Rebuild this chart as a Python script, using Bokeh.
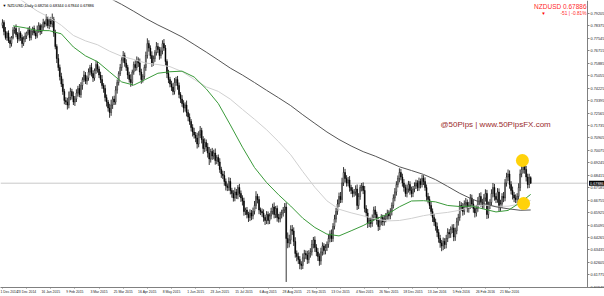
from bokeh.plotting import figure
from bokeh.models import Range1d, LinearAxis, FixedTicker, Label, ColumnDataSource, PrintfTickFormatter
from bokeh.embed import file_html
from bokeh.resources import INLINE

# ---------------- data (NZDUSD daily) ----------------
symbol = "NZDUSD"
last_price = 0.67886
ohlc_text = "0.68256 0.68344 0.67844 0.67886"
change_pips = -51
change_pct = -0.81
first_open = 0.7840

closes = [
    0.7860, 0.7800, 0.7760, 0.7790, 0.7740, 0.7720, 0.7760, 0.7810, 0.7820, 0.7780, 0.7750, 0.7790, 0.7760, 0.7720, 0.7750, 0.7770,
    0.7790, 0.7810, 0.7760, 0.7800, 0.7820, 0.7790, 0.7770, 0.7810, 0.7840, 0.7800, 0.7830, 0.7860, 0.7850, 0.7880, 0.7840, 0.7870,
    0.7850, 0.7880, 0.7790, 0.7700, 0.7620, 0.7560, 0.7500, 0.7450, 0.7400, 0.7340, 0.7330, 0.7310, 0.7360, 0.7400, 0.7370, 0.7330,
    0.7350, 0.7390, 0.7420, 0.7380, 0.7440, 0.7480, 0.7510, 0.7470, 0.7490, 0.7530, 0.7560, 0.7520, 0.7490, 0.7540, 0.7580, 0.7550,
    0.7510, 0.7480, 0.7440, 0.7420, 0.7360, 0.7330, 0.7290, 0.7260, 0.7310, 0.7350, 0.7330, 0.7410, 0.7460, 0.7520, 0.7560, 0.7610,
    0.7640, 0.7590, 0.7560, 0.7510, 0.7480, 0.7460, 0.7530, 0.7580, 0.7560, 0.7610, 0.7590, 0.7530, 0.7480, 0.7500, 0.7560, 0.7640,
    0.7720, 0.7690, 0.7640, 0.7590, 0.7620, 0.7660, 0.7700, 0.7680, 0.7640, 0.7670, 0.7720, 0.7690, 0.7600, 0.7520, 0.7480, 0.7450,
    0.7430, 0.7400, 0.7460, 0.7480, 0.7440, 0.7380, 0.7350, 0.7320, 0.7290, 0.7310, 0.7260, 0.7230, 0.7200, 0.7160, 0.7130, 0.7110,
    0.7090, 0.7050, 0.7110, 0.7140, 0.7080, 0.7020, 0.7060, 0.7030, 0.6990, 0.6950, 0.7000, 0.6970, 0.6990, 0.6940, 0.6960, 0.6930,
    0.6880, 0.6850, 0.6840, 0.6800, 0.6770, 0.6760, 0.6800, 0.6740, 0.6720, 0.6690, 0.6730, 0.6710, 0.6760, 0.6720, 0.6690, 0.6670,
    0.6600, 0.6610, 0.6580, 0.6560, 0.6590, 0.6570, 0.6600, 0.6640, 0.6700, 0.6680, 0.6610, 0.6600, 0.6590, 0.6560, 0.6540, 0.6580,
    0.6540, 0.6570, 0.6600, 0.6630, 0.6580, 0.6620, 0.6560, 0.6550, 0.6580, 0.6590, 0.6610, 0.6630, 0.6420, 0.6390, 0.6410, 0.6480,
    0.6470, 0.6400, 0.6320, 0.6300, 0.6280, 0.6250, 0.6240, 0.6290, 0.6320, 0.6310, 0.6280, 0.6320, 0.6330, 0.6380, 0.6410, 0.6360,
    0.6330, 0.6300, 0.6270, 0.6330, 0.6370, 0.6340, 0.6360, 0.6380, 0.6420, 0.6450, 0.6420, 0.6500, 0.6550, 0.6600, 0.6650, 0.6700,
    0.6680, 0.6790, 0.6860, 0.6820, 0.6790, 0.6810, 0.6760, 0.6740, 0.6720, 0.6730, 0.6750, 0.6640, 0.6700, 0.6760, 0.6770, 0.6740,
    0.6620, 0.6590, 0.6520, 0.6540, 0.6520, 0.6560, 0.6610, 0.6580, 0.6540, 0.6500, 0.6530, 0.6560, 0.6530, 0.6550, 0.6570, 0.6590,
    0.6570, 0.6600, 0.6640, 0.6690, 0.6730, 0.6780, 0.6820, 0.6860, 0.6830, 0.6790, 0.6760, 0.6720, 0.6750, 0.6780, 0.6740, 0.6720,
    0.6750, 0.6770, 0.6790, 0.6760, 0.6800, 0.6780, 0.6820, 0.6800, 0.6760, 0.6700, 0.6680, 0.6640, 0.6600, 0.6560, 0.6530, 0.6500,
    0.6460, 0.6420, 0.6390, 0.6370, 0.6400, 0.6380, 0.6420, 0.6460, 0.6450, 0.6480, 0.6490, 0.6430, 0.6470, 0.6530, 0.6560, 0.6640,
    0.6630, 0.6600, 0.6650, 0.6660, 0.6620, 0.6640, 0.6690, 0.6650, 0.6620, 0.6590, 0.6620, 0.6670, 0.6700, 0.6660, 0.6640, 0.6690,
    0.6720, 0.6580, 0.6640, 0.6660, 0.6720, 0.6760, 0.6700, 0.6680, 0.6730, 0.6630, 0.6650, 0.6700, 0.6690, 0.6790, 0.6830, 0.6850,
    0.6780, 0.6740, 0.6710, 0.6690, 0.6680, 0.6700, 0.6760, 0.6850, 0.6880, 0.6910, 0.6880, 0.6830, 0.6780, 0.68256, 0.67886,
]

# wick length above the body / below the body, in pips
hi_ext = [
    22, 15, 30, 12, 18, 25, 10, 20, 14, 28, 16, 35, 12, 20, 18, 24,
    10, 18, 26, 14, 12, 20, 16, 30, 22, 14, 18, 25, 12, 35, 20, 16,
    28, 40, 18, 22, 15, 30, 20, 25, 35, 18, 22, 28, 40, 25, 18, 30,
    20, 25, 18, 30, 22, 15, 28, 20, 16, 24, 18, 30, 22, 14, 26, 20,
    18, 22, 30, 16, 25, 20, 14, 28, 35, 18, 22, 26, 20, 15, 24, 18,
    30, 20, 25, 18, 22, 35, 16, 20, 28, 24, 18, 30, 22, 16, 20, 26,
    35, 22, 18, 28, 20, 16, 30, 24, 18, 26, 22, 30, 20, 15, 25, 18,
    22, 28, 30, 18, 24, 20, 16, 26, 22, 18, 30, 20, 24, 16, 22, 28,
    20, 35, 25, 30, 18, 22, 28, 20, 26, 40, 18, 24, 22, 30, 16, 20,
    25, 18, 22, 30, 20, 16, 28, 24, 18, 22, 30, 20, 16, 24, 20, 18,
    22, 16, 20, 18, 24, 20, 26, 30, 35, 18, 22, 16, 20, 24, 18, 22,
    20, 18, 24, 22, 30, 16, 20, 24, 18, 22, 20, 26, 30, 40, 35, 28,
    30, 24, 28, 20, 26, 22, 18, 30, 24, 20, 28, 22, 25, 30, 20, 24,
    22, 26, 20, 28, 24, 18, 22, 20, 26, 24, 30, 22, 28, 24, 30, 26,
    30, 35, 36, 24, 22, 20, 26, 18, 22, 20, 24, 30, 22, 18, 20, 24,
    30, 22, 26, 18, 24, 20, 22, 26, 18, 24, 20, 22, 18, 24, 20, 22,
    18, 22, 20, 24, 26, 22, 20, 28, 24, 22, 26, 20, 30, 24, 22, 26,
    20, 24, 22, 18, 26, 20, 24, 22, 28, 20, 24, 22, 26, 20, 24, 22,
    26, 22, 24, 20, 26, 22, 24, 28, 22, 20, 24, 26, 22, 28, 24, 30,
    22, 26, 24, 30, 20, 24, 26, 22, 28, 20, 24, 26, 22, 28, 24, 26,
    28, 24, 26, 22, 28, 30, 24, 22, 26, 24, 28, 22, 30, 26, 28, 30,
    24, 22, 26, 20, 24, 22, 28, 30, 34, 36, 28, 24, 22, 26, 9,
]
lo_ext = [
    18, 25, 14, 22, 16, 30, 20, 12, 24, 18, 26, 15, 22, 28, 16, 20,
    20, 14, 22, 18, 25, 16, 20, 14, 18, 24, 16, 20, 22, 15, 18, 24,
    20, 22, 25, 18, 30, 22, 26, 20, 22, 25, 20, 30, 22, 18, 24, 20,
    26, 20, 24, 18, 22, 28, 16, 20, 24, 18, 22, 20, 26, 18, 22, 24,
    20, 24, 22, 28, 26, 30, 24, 35, 22, 26, 20, 18, 24, 20, 16, 22,
    18, 24, 22, 26, 20, 28, 22, 18, 24, 20, 26, 22, 28, 20, 18, 22,
    20, 24, 22, 26, 18, 22, 20, 24, 28, 20, 22, 18, 26, 30, 24, 22,
    26, 24, 20, 22, 28, 24, 26, 22, 30, 24, 26, 28, 22, 26, 30, 24,
    28, 30, 22, 20, 26, 35, 24, 28, 30, 40, 24, 26, 22, 28, 24, 26,
    22, 26, 24, 28, 30, 24, 22, 26, 28, 24, 22, 26, 28, 24, 26, 30,
    28, 24, 26, 30, 24, 28, 22, 20, 24, 26, 28, 24, 26, 28, 30, 24,
    26, 24, 22, 20, 26, 24, 28, 24, 22, 26, 24, 20, 290, 35, 30, 28,
    26, 30, 28, 32, 30, 35, 28, 24, 26, 28, 30, 26, 28, 24, 26, 30,
    28, 30, 32, 26, 24, 28, 26, 24, 22, 26, 24, 22, 20, 24, 22, 20,
    24, 22, 20, 26, 24, 22, 28, 24, 26, 22, 24, 30, 24, 22, 26, 24,
    26, 28, 30, 24, 28, 22, 24, 26, 28, 30, 24, 22, 26, 24, 22, 24,
    24, 22, 26, 20, 22, 24, 20, 26, 22, 24, 28, 22, 26, 24, 28, 26,
    24, 22, 20, 24, 22, 26, 20, 24, 22, 28, 26, 24, 28, 30, 26, 28,
    30, 28, 32, 35, 28, 30, 26, 24, 28, 26, 24, 28, 26, 22, 24, 22,
    26, 28, 22, 24, 26, 28, 22, 26, 28, 30, 24, 22, 26, 28, 24, 22,
    24, 30, 26, 24, 22, 26, 28, 24, 22, 30, 26, 24, 28, 22, 24, 26,
    28, 26, 30, 28, 24, 26, 22, 24, 22, 26, 28, 30, 26, 24, 4,
]

x_tick_bars = [0, 16, 32, 48, 64, 80, 96, 112, 128, 144, 160, 176, 192, 208, 224, 240, 256, 272, 288, 304, 320, 336]
x_tick_labels = ["1 Dec 2014", "23 Dec 2014", "16 Jan 2015", "9 Feb 2015", "3 Mar 2015", "25 Mar 2015",
                 "16 Apr 2015", "8 May 2015", "1 Jun 2015", "23 Jun 2015", "15 Jul 2015", "6 Aug 2015",
                 "28 Aug 2015", "21 Sep 2015", "13 Oct 2015", "4 Nov 2015", "26 Nov 2015", "18 Dec 2015",
                 "13 Jan 2016", "5 Feb 2016", "26 Feb 2016", "21 Mar 2016"]

y_ticks = [0.79205, 0.78375, 0.77545, 0.76715, 0.75885, 0.75055, 0.74225, 0.73395, 0.72565, 0.71735,
           0.70905, 0.70075, 0.69245, 0.68415, 0.67585, 0.66755, 0.65925, 0.65095, 0.64265, 0.63435,
           0.62605, 0.61775, 0.60945]

# moving averages sampled every 8 bars
ma_bars = list(range(7, 344, 8)) + [350]
ma_fast = [0.7838, 0.7825, 0.7807, 0.7806, 0.7785, 0.7697, 0.7638, 0.7599, 0.7531, 0.7464, 0.7443,
           0.7482, 0.7522, 0.7532, 0.7536, 0.7497, 0.7418, 0.7320, 0.7177, 0.7029, 0.6893, 0.6793,
           0.6711, 0.6636, 0.6555, 0.6493, 0.6449, 0.6437, 0.6471, 0.6506, 0.6548, 0.6582, 0.6631,
           0.6670, 0.6672, 0.6664, 0.6640, 0.6633, 0.6636, 0.6616, 0.6597, 0.6607, 0.6659, 0.6714]
ma_mid = [0.8048, 0.7992, 0.7937, 0.7895, 0.7842, 0.7774, 0.7738, 0.7712, 0.7669, 0.7635, 0.7614,
          0.7590, 0.7580, 0.7566, 0.7533, 0.7481, 0.7431, 0.7401, 0.7349, 0.7281, 0.7215, 0.7145,
          0.7065, 0.6978, 0.6866, 0.6761, 0.6671, 0.6615, 0.6591, 0.6571, 0.6551, 0.6537, 0.6540,
          0.6554, 0.6572, 0.6585, 0.6594, 0.6608, 0.6633, 0.6643, 0.6635, 0.6635, 0.6650, 0.6674]
ma_slow = [0.8335, 0.8306, 0.8274, 0.8246, 0.8208, 0.8157, 0.8108, 0.8068, 0.8023, 0.7981, 0.7935,
           0.7887, 0.7844, 0.7805, 0.7764, 0.7714, 0.7663, 0.7610, 0.7556, 0.7510, 0.7460, 0.7408,
           0.7358, 0.7306, 0.7245, 0.7187, 0.7130, 0.7080, 0.7037, 0.6999, 0.6969, 0.6934, 0.6898,
           0.6873, 0.6847, 0.6812, 0.6767, 0.6721, 0.6683, 0.6652, 0.6631, 0.6618, 0.6608, 0.6610]

highlight_bars = [344.5, 345.3]
highlight_prices = [0.6940, 0.6653]

# ---------------- build ----------------
pip = 0.0001
n = len(closes)
bars = list(range(n))
opens = [first_open] + closes[:-1]
tops = [max(o, c) for o, c in zip(opens, closes)]
bottoms = [min(o, c) for o, c in zip(opens, closes)]
highs = [t + h * pip for t, h in zip(tops, hi_ext)]
lows = [b - l * pip for b, l in zip(bottoms, lo_ext)]
fills = ["#ffffff" if c >= o else "#000000" for o, c in zip(opens, closes)]

src = ColumnDataSource(dict(x=bars, top=tops, bottom=bottoms, high=highs, low=lows, fill=fills))

FONT = "Liberation Sans"
X_START, X_END = -1.3, 398.9      # whole canvas width in bar units
SCALE_AT = 387.7                  # where the price scale sits (bar units)

p = figure(width=604, height=296, output_backend="svg", toolbar_location=None,
           x_range=Range1d(X_START, X_END), y_range=Range1d(0.60929, 0.80072),
           x_axis_location=None, y_axis_location=None,
           min_border_left=0, min_border_top=0, min_border_right=0, min_border_bottom=9)
p.xgrid.visible = False
p.ygrid.visible = False
p.outline_line_color = None
p.background_fill_color = "white"
p.border_fill_color = "white"

yax = LinearAxis(ticker=FixedTicker(ticks=y_ticks), formatter=PrintfTickFormatter(format="%.5f"),
                 fixed_location=SCALE_AT)
yax.major_label_text_font = FONT
yax.major_label_text_font_size = "3.8px"
yax.major_label_text_color = "#222222"
yax.major_tick_out = 2
yax.major_tick_in = 0
yax.minor_tick_out = 0
yax.minor_tick_in = 0
yax.major_label_standoff = 1
yax.axis_line_color = "#808080"
yax.major_tick_line_color = "#808080"
p.add_layout(yax, "right")

xax = LinearAxis(ticker=FixedTicker(ticks=x_tick_bars),
                 major_label_overrides={b: s for b, s in zip(x_tick_bars, x_tick_labels)})
xax.major_label_text_font = FONT
xax.major_label_text_font_size = "3.4px"
xax.major_label_text_color = "#222222"
xax.major_label_text_align = "left"
xax.major_tick_out = 1
xax.major_tick_in = 0
xax.minor_tick_out = 0
xax.minor_tick_in = 0
xax.major_label_standoff = 1
xax.axis_line_color = "#808080"
xax.major_tick_line_color = "#808080"
p.add_layout(xax, "below")

# current price line, up to the price scale
p.segment(x0=[X_START], x1=[SCALE_AT], y0=[last_price], y1=[last_price], line_color="#c8c8c8", line_width=1)

p.segment(x0="x", y0="low", x1="x", y1="high", source=src, line_color="#000000", line_width=0.8)
p.vbar(x="x", width=0.6, top="top", bottom="bottom", fill_color="fill", line_color="#000000",
       line_width=0.5, source=src)

p.line(ma_bars, ma_mid, line_color="#d0d0d0", line_width=1)
p.line(ma_bars, ma_slow, line_color="#555555", line_width=1)
p.line(ma_bars, ma_fast, line_color="#3a9a3a", line_width=1)

p.scatter(highlight_bars, highlight_prices, size=13, fill_color="#FFD20A", line_color=None)

FH = 287  # frame height used for screen-unit placement
p.add_layout(Label(x=2, y=FH - 4.5, x_units="screen", y_units="screen",
                   text="\u25bc " + symbol + ",Daily  " + ohlc_text,
                   text_font=FONT, text_font_size="3.9px", text_color="#000000", text_baseline="middle"))
p.add_layout(Label(x=586, y=FH - 5.5, x_units="screen", y_units="screen",
                   text=f"{symbol} {last_price:.5f}", text_align="right",
                   text_font=FONT, text_font_size="6.5px", text_color="#ff2a2a", text_baseline="middle"))
p.add_layout(Label(x=586, y=FH - 12.5, x_units="screen", y_units="screen",
                   text=f"{change_pips} | {change_pct:.2f}%", text_align="right",
                   text_font=FONT, text_font_size="4.8px", text_color="#ff2a2a", text_baseline="middle"))
p.add_layout(Label(x=543, y=FH - 12.5, x_units="screen", y_units="screen",
                   text="\u25bc", text_align="center",
                   text_font=FONT, text_font_size="4.5px", text_color="#ff0000", text_baseline="middle"))
p.add_layout(Label(x=440, y=FH - 123.5, x_units="screen", y_units="screen",
                   text="@50Pips | www.50PipsFX.com",
                   text_font=FONT, text_font_size="8px", text_color="#9b2c2c", text_baseline="middle"))
p.add_layout(Label(x=588.5, y=last_price, x_units="screen", y_units="data",
                   text=f"{last_price:.5f}", text_font=FONT, text_font_size="3.8px",
                   text_color="#ffffff", text_baseline="middle",
                   background_fill_color="#000000", padding=1))

open("out.html", "w").write(file_html(p, INLINE))
